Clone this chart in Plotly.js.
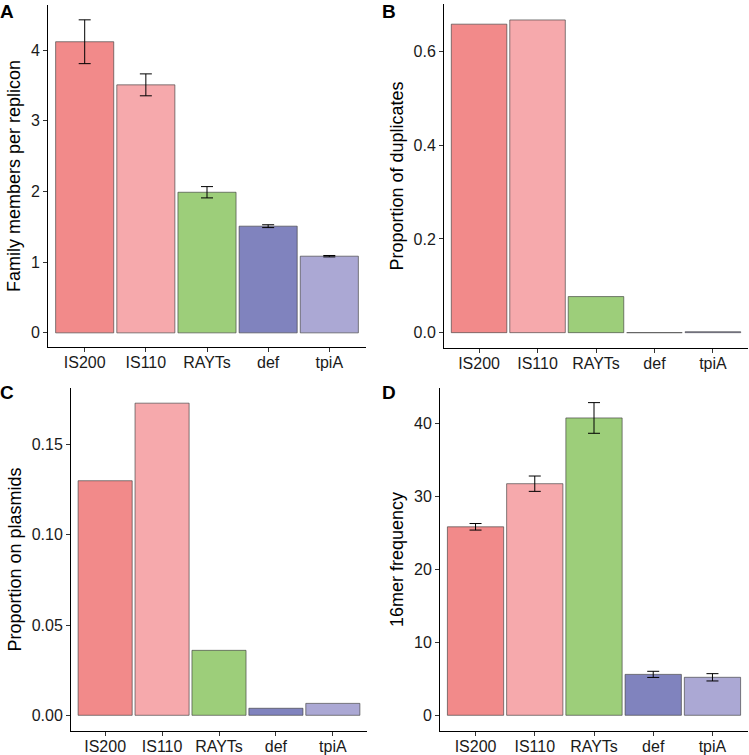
<!DOCTYPE html>
<html>
<head>
<meta charset="utf-8">
<script src="https://cdn.plot.ly/plotly-3.0.1.min.js"></script>
<style>html,body{margin:0;padding:0;background:#fff;}#chart{width:749px;height:755px;}</style>
</head>
<body>
<div id="chart"></div>
<script>
// Data
const categories = ["IS200", "IS110", "RAYTs", "def", "tpiA"];
const familyMembers = [4.12, 3.51, 1.99, 1.51, 1.085];
const familyMembersErr = [0.31, 0.155, 0.08, 0.02, 0.01];
const propDuplicates = [0.658, 0.667, 0.077, 0.0, 0.002];
const propPlasmids = [0.130, 0.173, 0.036, 0.0039, 0.0066];
const freq16mer = [25.8, 31.7, 40.7, 5.6, 5.2];
const freq16merErr = [0.45, 1.05, 2.1, 0.42, 0.5];
const panelLabels = ["A", "B", "C", "D"];
const yTitles = ["Family members per replicon", "Proportion of duplicates", "Proportion on plasmids", "16mer frequency"];

const barColors = ["#F28A8A", "#F6A9AC", "#9DCE7A", "#8083BE", "#ABA8D4"];
const W = 749, H = 755;
const FONT = "Liberation Sans, Arial, Helvetica, sans-serif";

function bar(vals, errs, xa, ya) {
  const t = {
    type: "bar", x: categories, y: vals, xaxis: xa, yaxis: ya, width: 0.95,
    marker: { color: barColors, line: { color: "rgba(60,60,60,0.8)", width: 0.8 } },
    showlegend: false, hoverinfo: "x+y"
  };
  if (errs) t.error_y = { type: "data", array: errs, visible: true, color: "#000", thickness: 1, width: 6 };
  return t;
}

const data = [
  bar(familyMembers, familyMembersErr, "x", "y"),
  bar(propDuplicates, null, "x2", "y2"),
  bar(propPlasmids, null, "x3", "y3"),
  bar(freq16mer, freq16merErr, "x4", "y4")
];

// pixel boxes [left, right, top, bottom]
const boxes = [[48, 366, 5, 347], [444, 748, 4, 348], [71, 367, 388, 731], [440, 748, 388, 731]];
const yRanges = [[-0.2, 4.64], [-0.0327, 0.701], [-0.0087, 0.1814], [-2.15, 44.8]];
const yTicks = [[0, 1, 2, 3, 4], [0, 0.2, 0.4, 0.6], [0, 0.05, 0.10, 0.15], [0, 10, 20, 30, 40]];
const yFormats = ["d", ".1f", ".2f", "d"];

const layout = {
  width: W, height: H, margin: { l: 0, r: 0, t: 0, b: 0 },
  paper_bgcolor: "#fff", plot_bgcolor: "rgba(0,0,0,0)",
  font: { family: FONT, size: 16, color: "#1a1a1a" },
  bargap: 0, annotations: []
};

boxes.forEach((b, i) => {
  const s = i === 0 ? "" : String(i + 1);
  layout["xaxis" + s] = {
    domain: [b[0] / W, b[1] / W], anchor: "y" + s, type: "category",
    range: [-0.6, 4.6], showline: true, linecolor: "#000", linewidth: 1,
    ticks: "outside", ticklen: 4, tickwidth: 1, tickcolor: "#333",
    ticklabelstandoff: -3,
    showgrid: false, zeroline: false, fixedrange: true,
    tickfont: { family: FONT, size: 16, color: "#1a1a1a" }
  };
  layout["yaxis" + s] = {
    domain: [1 - b[3] / H, 1 - b[2] / H], anchor: "x" + s,
    range: yRanges[i], tickvals: yTicks[i], tickformat: yFormats[i],
    showline: true, linecolor: "#000", linewidth: 1,
    ticks: "outside", ticklen: 4, tickwidth: 1, tickcolor: "#333",
    showgrid: false, zeroline: false, fixedrange: true,
    tickfont: { family: FONT, size: 16, color: "#1a1a1a" },
    title: { text: yTitles[i], font: { family: FONT, size: 18, color: "#000" }, standoff: 5 }
  };
  layout.annotations.push({
    text: "<b>" + panelLabels[i] + "</b>", xref: "paper", yref: "paper",
    x: (i % 2 === 0 ? -2 : 380) / W, y: 1 - (i < 2 ? -1 : 380) / H,
    xanchor: "left", yanchor: "top", showarrow: false,
    font: { family: FONT, size: 19, color: "#000" }
  });
});

Plotly.newPlot("chart", data, layout, { staticPlot: true, displayModeBar: false });
</script>
</body>
</html>
